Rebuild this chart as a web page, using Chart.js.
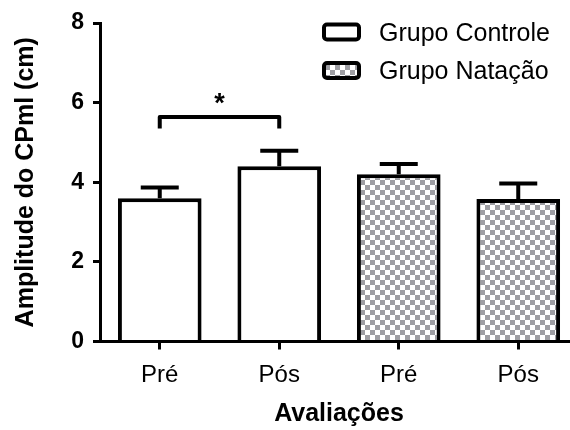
<!DOCTYPE html>
<html>
<head>
<meta charset="utf-8">
<script src="https://cdn.jsdelivr.net/npm/chart.js@4.4.1/dist/chart.umd.min.js"></script>
<style>
  html, body { margin: 0; padding: 0; background: #fff; overflow: hidden; }
  #wrap { width: 570px; height: 430px; overflow: hidden; }
  canvas { display: block; }
</style>
</head>
<body>
<div id="wrap"><canvas id="c" width="580" height="430"></canvas></div>
<script>
// ---- data ----
const categories = ['Pré', 'Pós', 'Pré', 'Pós'];
const seriesLabels = ['Grupo Controle', 'Grupo Natação'];
const controleMeans = [3.6, 4.4, null, null];
const controleSEM = [0.27, 0.39, null, null];
const natacaoMeans = [null, null, 4.2, 3.58];
const natacaoSEM = [null, null, 0.26, 0.39];
const yTicks = [0, 2, 4, 6, 8];
const sigPair = [0, 1];        // categories compared
const sigLevel = [5.64, 5.35]; // bracket top, bracket ends
const sigStarLevel = 6.1;
const sigLabel = '*';
const yTitle = 'Amplitude do CPml (cm)';
const xTitle = 'Avaliações';

const FONT = "'Liberation Sans', Arial, sans-serif";

// checkered pattern
function makePattern(ctx) {
  const s = 5;
  const pc = document.createElement('canvas');
  pc.width = s * 2; pc.height = s * 2;
  const p = pc.getContext('2d');
  p.fillStyle = '#ffffff';
  p.fillRect(0, 0, s * 2, s * 2);
  p.fillStyle = '#9e9ea3';
  p.fillRect(0, 0, s, s);
  p.fillRect(s, s, s, s);
  return ctx.createPattern(pc, 'repeat');
}

const canvas = document.getElementById('c');
const ctx = canvas.getContext('2d');
const checker = makePattern(ctx);

const errorBars = {
  id: 'errorBars',
  afterDatasetsDraw(chart) {
    const c = chart.ctx;
    const y = chart.scales.y;
    const errs = [controleSEM, natacaoSEM];
    const means = [controleMeans, natacaoMeans];
    c.save();
    c.strokeStyle = '#000';
    c.lineWidth = 4;
    chart.data.datasets.forEach((ds, di) => {
      const meta = chart.getDatasetMeta(di);
      meta.data.forEach((el, i) => {
        const m = means[di][i];
        const e = errs[di][i];
        if (m == null || e == null) return;
        const top = y.getPixelForValue(m + e);
        c.beginPath();
        c.moveTo(el.x, el.y);
        c.lineTo(el.x, top);
        c.moveTo(el.x - 19, top);
        c.lineTo(el.x + 19, top);
        c.stroke();
      });
    });
    // significance bracket
    const x = chart.scales.x;
    const x1 = x.getPixelForValue(sigPair[0]);
    const x2 = x.getPixelForValue(sigPair[1]);
    const yt = y.getPixelForValue(sigLevel[0]);
    const yb = y.getPixelForValue(sigLevel[1]);
    c.lineJoin = 'round';
    c.beginPath();
    c.moveTo(x1, yb);
    c.lineTo(x1, yt);
    c.lineTo(x2, yt);
    c.lineTo(x2, yb);
    c.stroke();
    c.fillStyle = '#000';
    c.font = 'bold 27px ' + FONT;
    c.textAlign = 'center';
    c.textBaseline = 'middle';
    c.fillText(sigLabel, (x1 + x2) / 2, y.getPixelForValue(sigStarLevel) + 6);
    c.restore();
  }
};

const customLegend = {
  id: 'customLegend',
  afterDraw(chart) {
    const c = chart.ctx;
    c.save();
    const rows = [24.5, 63];
    chart.data.datasets.forEach((ds, i) => {
      const bx = 324, by = rows[i], bw = 35, bh = 15;
      c.beginPath();
      if (c.roundRect) c.roundRect(bx, by, bw, bh, 3); else c.rect(bx, by, bw, bh);
      c.fillStyle = ds.backgroundColor;
      c.fill();
      c.lineWidth = 4;
      c.strokeStyle = '#000';
      c.stroke();
      c.fillStyle = '#000';
      c.font = '25px ' + FONT;
      c.textAlign = 'left';
      c.textBaseline = 'middle';
      c.fillText(ds.label, 379, by + bh / 2 + 2);
    });
    c.restore();
  }
};

new Chart(ctx, {
  type: 'bar',
  data: {
    labels: categories,
    datasets: [
      {
        label: seriesLabels[0],
        data: controleMeans,
        backgroundColor: '#ffffff',
        borderColor: '#000000',
        borderWidth: 4,
        borderSkipped: 'start'
      },
      {
        label: seriesLabels[1],
        data: natacaoMeans,
        backgroundColor: checker,
        borderColor: '#000000',
        borderWidth: 4,
        borderSkipped: 'start'
      }
    ]
  },
  options: {
    responsive: false,
    devicePixelRatio: 1,
    animation: false,
    layout: { padding: { top: 23, left: 0, right: 2, bottom: 0 } },
    datasets: { bar: { grouped: false, barPercentage: 0.7, categoryPercentage: 1.0 } },
    plugins: {
      legend: { display: false },
      tooltip: { enabled: false }
    },
    scales: {
      x: {
        offset: true,
        grid: { display: true, offset: false, drawOnChartArea: false, drawTicks: true, tickLength: 8, lineWidth: 3, color: '#000' },
        border: { display: true, color: '#000', width: 3 },
        ticks: { color: '#000', font: { family: FONT, size: 24 }, padding: 11, maxRotation: 0 },
        title: { display: true, text: xTitle, color: '#000', font: { family: FONT, size: 25, weight: 'bold' }, padding: { top: 0, bottom: 1 } },
        afterFit(scale) { scale.height = 88.5; }
      },
      y: {
        min: 0,
        max: 8,
        afterBuildTicks(scale) { scale.ticks = yTicks.map(v => ({ value: v })); },
        grid: { display: true, drawOnChartArea: false, drawTicks: true, tickLength: 7, lineWidth: 3, color: '#000' },
        border: { display: true, color: '#000', width: 3 },
        ticks: { color: '#000', font: { family: FONT, size: 23, weight: 'bold' }, padding: 9 },
        title: { display: true, text: yTitle, color: '#000', font: { family: FONT, size: 25, weight: 'bold' }, padding: { top: 11, bottom: 0 } },
        afterFit(scale) { scale.width = 100; }
      }
    }
  },
  plugins: [errorBars, customLegend]
});
</script>
</body>
</html>
